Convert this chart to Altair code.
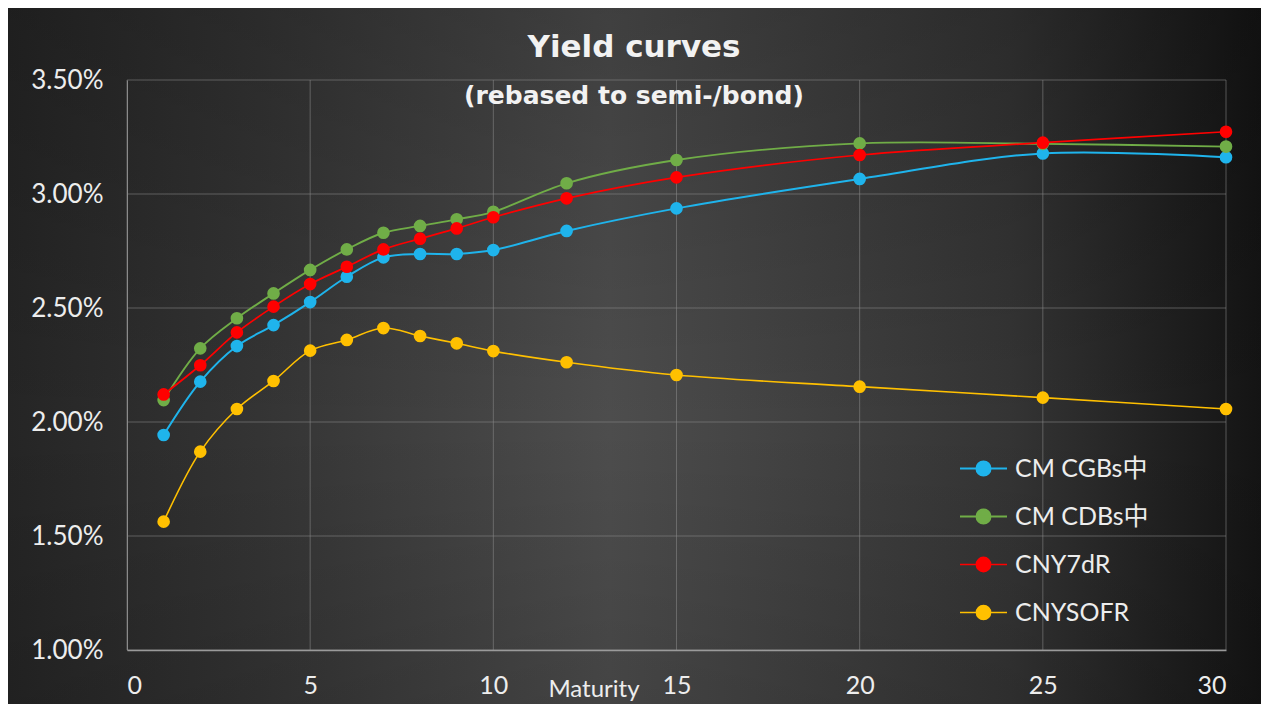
import altair as alt
import pandas as pd

# ---------------- data ----------------
series = ["CM CGBs中", "CM CDBs中", "CNY7dR", "CNYSOFR"]
colors = ["#1FB4EC", "#70AD47", "#FF0000", "#FFC000"]
line_widths = [2, 1.6, 3.2, 2.2]

maturity = [1, 2, 3, 4, 5, 6, 7, 8, 9, 10, 12, 15, 20, 25, 30]
cgbs = [1.943, 2.177, 2.333, 2.425, 2.526, 2.637, 2.722, 2.737, 2.737, 2.754, 2.838, 2.937, 3.066, 3.178, 3.161]
cdbs = [2.096, 2.323, 2.455, 2.564, 2.667, 2.757, 2.830, 2.860, 2.889, 2.922, 3.047, 3.149, 3.222, 3.220, 3.208]
cny7dr = [2.121, 2.249, 2.393, 2.506, 2.605, 2.681, 2.757, 2.804, 2.849, 2.898, 2.981, 3.073, 3.171, 3.225, 3.273]
cnysofr = [1.563, 1.870, 2.057, 2.180, 2.313, 2.360, 2.412, 2.377, 2.345, 2.311, 2.262, 2.206, 2.155, 2.107, 2.057]

x_ticks = [0, 5, 10, 15, 20, 25, 30]
y_ticks = [1.0, 1.5, 2.0, 2.5, 3.0, 3.5]

title_text = "Yield curves"
subtitle_text = "(rebased to semi-/bond)"
x_title = "Maturity"

rows = []
for name, vals in zip(series, [cgbs, cdbs, cny7dr, cnysofr]):
    for m, v in zip(maturity, vals):
        rows.append({"series": name, "maturity": m, "yield": v / 100})
df = pd.DataFrame(rows)

W, H = 1099, 570
PL, PT, PR, PB = 119, 72, 35, 54
FONT = "Lato, 'Noto Sans CJK SC', sans-serif"
LBL = "#EDEDED"

xs = alt.Scale(domain=[0, 30], nice=False, zero=False)
ys = alt.Scale(domain=[0.01, 0.035], nice=False, zero=False)
cs = alt.Scale(domain=series, range=colors)

one = pd.DataFrame({"a": [0]})

bg = alt.Chart(one).mark_rect(
    fill={"gradient": "linear", "x1": 0, "y1": 0, "x2": 1, "y2": 0,
          "stops": [{"offset": 0, "color": "#252525"},
                    {"offset": 0.2, "color": "#343434"},
                    {"offset": 0.48, "color": "#4D4D4D"},
                    {"offset": 0.8, "color": "#343434"},
                    {"offset": 1, "color": "#141414"}]}
).encode(x=alt.value(-PL), x2=alt.value(W + PR), y=alt.value(-PT), y2=alt.value(H + PB))

bg2 = alt.Chart(one).mark_rect(
    fill={"gradient": "linear", "x1": 0, "y1": 0, "x2": 0, "y2": 1,
          "stops": [{"offset": 0, "color": "rgba(0,0,0,0.18)"},
                    {"offset": 0.6, "color": "rgba(0,0,0,0)"},
                    {"offset": 1, "color": "rgba(0,0,0,0.12)"}]}
).encode(x=alt.value(-PL), x2=alt.value(W + PR), y=alt.value(-PT), y2=alt.value(H + PB))

vgrid = alt.Chart(pd.DataFrame({"t": x_ticks})).mark_rule(
    color="#8A8A8A", opacity=0.55, strokeWidth=1
).encode(x=alt.X("t:Q", scale=xs))

hgrid = alt.Chart(pd.DataFrame({"t": [v / 100 for v in y_ticks]})).mark_rule(
    color="#8A8A8A", opacity=0.55, strokeWidth=1
).encode(y=alt.Y("t:Q", scale=ys))

x_enc = alt.X("maturity:Q", scale=xs,
              axis=alt.Axis(values=x_ticks, title=None, grid=False, ticks=False,
                            domain=True, domainColor="#9A9A9A", domainWidth=1.5,
                            labelFont=FONT, labelFontSize=25, labelColor=LBL,
                            labelPadding=23, zindex=1))
y_enc = alt.Y("yield:Q", scale=ys,
              axis=alt.Axis(values=[v / 100 for v in y_ticks], format=".2%", title=None,
                            grid=False, ticks=False, domain=True, domainColor="#8A8A8A",
                            labelFont=FONT, labelFontSize=26, labelColor=LBL,
                            labelPadding=24, zindex=1))

legend = alt.Legend(
    orient="none", legendX=832, legendY=364, title=None,
    symbolType="M-1,0H1M0.3,0A0.3,0.3,0,1,1,-0.3,0A0.3,0.3,0,1,1,0.3,0",
    symbolSize=47 * 47, symbolStrokeWidth=2, symbolOpacity=1,
    labelFont=FONT, labelFontSize=25, labelColor=LBL, labelOffset=7,
    rowPadding=10, labelLimit=300,
)

lines = alt.Chart(df).mark_line(interpolate="catmull-rom").encode(
    x=x_enc, y=y_enc,
    color=alt.Color("series:N", scale=cs, legend=legend, sort=series),
    strokeWidth=alt.StrokeWidth("series:N", scale=alt.Scale(domain=series, range=line_widths), legend=None),
    detail="series:N",
)

points = alt.Chart(df).mark_circle(size=160, opacity=1).encode(
    x=alt.X("maturity:Q", scale=xs),
    y=alt.Y("yield:Q", scale=ys),
    color=alt.Color("series:N", scale=cs, legend=legend, sort=series),
)

title = alt.Chart(pd.DataFrame({"label": [title_text]})).mark_text(
    font="'DejaVu Sans', sans-serif", fontSize=31, fontWeight="bold", color="#F2F2F2",
    align="center", baseline="middle"
).encode(x=alt.value(507), y=alt.value(-32), text="label:N")

subtitle = alt.Chart(pd.DataFrame({"label": [subtitle_text]})).mark_text(
    font="'DejaVu Sans', sans-serif", fontSize=25, fontWeight="bold", color="#F2F2F2",
    align="center", baseline="middle"
).encode(x=alt.value(507), y=alt.value(16), text="label:N")

xtitle = alt.Chart(pd.DataFrame({"label": [x_title]})).mark_text(
    font=FONT, fontSize=24, color=LBL, align="center", baseline="middle"
).encode(x=alt.value(467), y=alt.value(610), text="label:N")

chart = alt.layer(bg, bg2, vgrid, hgrid, lines, points, title, subtitle, xtitle).properties(
    width=W, height=H,
    autosize=alt.AutoSizeParams(type="none"),
    padding={"left": PL, "top": PT, "right": PR, "bottom": PB},
    background="#222222",
).configure_view(stroke=None)

chart.save("out.html", embed_options={"renderer": "svg", "actions": False})
